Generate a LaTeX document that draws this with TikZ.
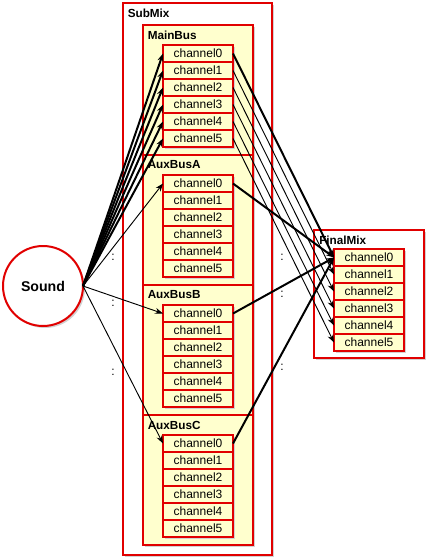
\documentclass[tikz,border=0pt]{standalone}
\usepackage{fontspec}
\setmainfont{Liberation Sans}
\usetikzlibrary{arrows.meta}
\definecolor{bred}{RGB}{225,0,0}
\definecolor{byel}{RGB}{255,255,206}
\definecolor{bshadow}{RGB}{210,210,210}
\newcommand{\shadowrect}[4]{\fill[bshadow] ({#1+2},{#2+2}) rectangle ({#1+#3+2},{#2+#4+2});}
\begin{document}
\begin{tikzpicture}[x=0.75pt,y=-0.75pt,
  box/.style={draw=bred,line width=1.5pt,inner sep=0pt,outer sep=0pt,anchor=north west},
  chan/.style={box,fill=byel,minimum width=52.5pt,minimum height=12.75pt,font=\fontsize{9}{10}\selectfont},
  bus/.style={box,fill=byel,minimum width=82.5pt,minimum height=97.5pt},
  lab/.style={font=\bfseries\fontsize{8.8}{10}\selectfont,anchor=west,inner sep=0pt},
  dots/.style={font=\fontsize{9}{10}\selectfont,inner sep=0pt},
  thickarr/.style={line width=1.5pt,-{Stealth[length=6pt,width=4.5pt]}},
  thinarr/.style={line width=0.7pt,-{Stealth[length=6pt,width=4.5pt]}}
]
\useasboundingbox (0,0) rectangle (427,560);
% SubMix container
\shadowrect{123}{3}{149}{552}
\node[box,fill=white,minimum width=111.75pt,minimum height=414pt] (submix) at (123,3) {};
\node[lab] (submixlab) at (127.5,13) {SubMix};
% buses
\foreach \y in {25,155,285,415}{\shadowrect{143}{\y}{110}{130}}
\node[bus] (mainbus) at (143,25) {};
\node[bus] (auxa) at (143,155) {};
\node[bus] (auxb) at (143,285) {};
\node[bus] (auxc) at (143,415) {};
\node[lab] (mainlab) at (147.5,35) {MainBus};
\node[lab] (auxalab) at (147.5,165) {AuxBusA};
\node[lab] (auxblab) at (147.5,295) {AuxBusB};
\node[lab] (auxclab) at (147.5,425) {AuxBusC};
\foreach \y in {45,175,305,435}{\shadowrect{163}{\y}{70}{102}}
\foreach \i in {0,...,5}{
  \node[chan] (m\i) at (163,{45+17*\i}) {channel\i};
  \node[chan] (a\i) at (163,{175+17*\i}) {channel\i};
  \node[chan] (b\i) at (163,{305+17*\i}) {channel\i};
  \node[chan] (c\i) at (163,{435+17*\i}) {channel\i};
}
% FinalMix
\shadowrect{314}{230}{110}{128}
\node[box,fill=white,minimum width=82.5pt,minimum height=96pt] (finalmix) at (314,230) {};
\node[lab] (finallab) at (319,240) {FinalMix};
\shadowrect{334}{249}{70}{102}
\foreach \i in {0,...,5}{
  \node[chan] (f\i) at (334,{249+17*\i}) {channel\i};
}
% Sound
\fill[bshadow] (45,288) circle (40);
\node[draw=bred,line width=1.5pt,fill=white,circle,minimum size=60pt,inner sep=0pt,outer sep=0pt,font=\bfseries\fontsize{10.6}{12}\selectfont] (snd) at (43,286) {Sound};
% dots
\node[dots] (d1) at (113,257) {:};
\node[dots] (d2) at (113,303) {:};
\node[dots] (d3) at (113,372) {:};
\node[dots] (d4) at (282,257) {:};
\node[dots] (d5) at (282,294) {:};
\node[dots] (d6) at (282,367) {:};
% connectors
\foreach \i in {0,...,5}{
  \draw[thickarr] (snd.east) -- (m\i.west);
}
\draw[thinarr] (snd.east) -- (a0.west);
\draw[thinarr] (snd.east) -- (b0.west);
\draw[thinarr] (snd.east) -- (c0.west);
\draw[thickarr] (m0.east) -- (f0.west);
\foreach \i in {1,...,5}{
  \draw[thinarr] (m\i.east) -- (f\i.west);
}
\draw[thickarr] (a0.east) -- (f0.west);
\draw[thickarr] (b0.east) -- (f0.west);
\draw[thickarr] (c0.east) -- (f0.west);
\end{tikzpicture}
\end{document}
